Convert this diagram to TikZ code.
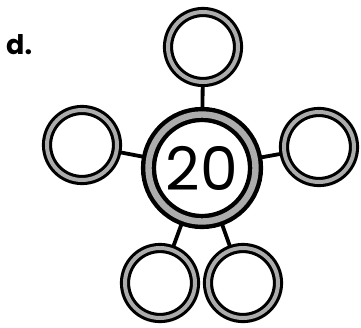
\documentclass[tikz,border=0pt]{standalone}
\usepackage{fontspec}
\setmainfont{Poppins}
\usetikzlibrary{backgrounds}
\begin{document}
\begin{tikzpicture}[x=1pt,y=-1pt,
  ring/.style={circle, inner sep=0pt, fill=white, draw=black, double=gray!65},
  smallring/.style={ring, minimum size=70pt, line width=3.1pt, double distance=4pt},
  bigring/.style={ring, minimum size=107pt, line width=4.4pt, double distance=6.4pt},
  link/.style={draw=black, line width=3.8pt},
  label/.style={inner sep=0pt, anchor=base west, font=\bfseries\fontsize{27}{27}\selectfont}
]
\useasboundingbox (0,0) rectangle (361,327);
\node[label] (d) at (6,54) {d.};
\node[smallring] (t) at (203,47) {};
\node[bigring] (c) at (202,168) {\fontsize{60}{60}\selectfont 20};
\node[smallring] (l) at (82,145) {};
\node[smallring] (r) at (319,147) {};
\node[smallring] (bl) at (160,283) {};
\node[smallring] (br) at (243,283) {};
\begin{scope}[on background layer]
\draw[link] (c.center) -- (t.center);
\draw[link] (c.center) -- (l.center);
\draw[link] (c.center) -- (r.center);
\draw[link] (c.center) -- (bl.center);
\draw[link] (c.center) -- (br.center);
\end{scope}
\end{tikzpicture}
\end{document}
